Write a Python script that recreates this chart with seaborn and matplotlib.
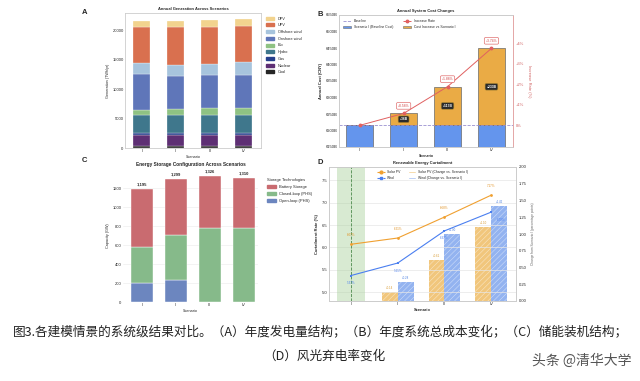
import numpy as np
import pandas as pd
import seaborn as sns
import matplotlib.pyplot as plt
from matplotlib.lines import Line2D
from matplotlib.patches import Patch

scenarios = ["I", "II", "III", "IV"]

# A: annual generation (TWh/yr), stacked bottom -> top
gen_techs = ["Coal", "Nuclear", "Gas", "Hydro", "Bio", "Onshore wind", "Offshore wind", "UPV", "DPV"]
coal = [400, 400, 400, 400]
nuclear = [1870, 1870, 1870, 1870]
gas = [280, 280, 280, 280]
hydro = [3100, 3100, 3100, 3050]
bio = [850, 900, 1070, 1190]
onshore = [6120, 5725, 5660, 5660]
offshore = [1815, 1755, 1820, 2160]
upv = [6060, 6460, 6350, 6120]
dpv = [1130, 1130, 1240, 1190]
gen_vals = [coal, nuclear, gas, hydro, bio, onshore, offshore, upv, dpv]
gen_colors = ["#262626", "#5e2f74", "#263f8c", "#3f778c", "#8fc283",
              "#5f76b9", "#a7c4dd", "#d9704f", "#f2d38e"]

# B: annual system cost (B CNY)
base_cost = [6216, 6216, 6216, 6216]
cost_increase = [0, 36, 117, 233]
increase_rate = [0.0, 0.58, 1.88, 3.74]

# C: storage capacity (GW)
open_phs = [205, 229, 0, 0]
closed_phs = [369, 475, 778, 780]
battery = [621, 595, 548, 530]
storage_total = [1195, 1299, 1326, 1310]

# D: curtailment rate (%) and change vs scenario I (pp)
solar_curt = [6.07, 6.21, 6.68, 7.17]
wind_curt = [5.37, 5.65, 6.37, 6.79]
solar_change = [0, 0.14, 0.61, 1.10]
wind_change = [0, 0.28, 1.00, 1.42]

sns.set_theme(style="whitegrid")
plt.rcParams['font.family'] = ['Liberation Sans', 'DejaVu Sans']
plt.rcParams['font.size'] = 3
plt.rcParams['hatch.linewidth'] = 0.4

fig = plt.figure(figsize=(6.4, 3.81), dpi=100)
W, H = 640, 381
TICK = 3.0
LAB = 2.7
TITLE = 2.9


def box(l, t, r, b):
    return [l / W, 1 - b / H, (r - l) / W, (b - t) / H]


def style_ax(ax, spine_col="#cccccc"):
    ax.tick_params(labelsize=TICK, pad=1, length=0)
    for s in ax.spines.values():
        s.set_color(spine_col)
        s.set_linewidth(0.6)


# ---------- A ----------
axA = fig.add_axes(box(125, 13, 261, 148))
bottom = np.zeros(4)
handles = []
for name, vals, col in zip(gen_techs, gen_vals, gen_colors):
    sns.barplot(x=scenarios, y=vals, bottom=bottom, color=col, width=0.5,
                saturation=1, edgecolor="white", linewidth=0.2, ax=axA)
    bottom += np.array(vals)
    handles.append(Patch(color=col, label=name))
axA.set_ylim(0, 22950)
axA.set_xlim(-0.49, 3.5)
axA.grid(False)
style_ax(axA)
axA.set_title("Annual Generation Across Scenarios", fontsize=TITLE, fontweight="bold", pad=2)
axA.set_ylabel("Generation (TWh/yr)", fontsize=LAB, labelpad=2)
axA.set_xlabel("Scenario", fontsize=LAB, labelpad=1.5)
axA.legend(handles=handles[::-1], loc="upper left", bbox_to_anchor=(1.01, 1.0),
           frameon=False, fontsize=2.8, handlelength=2.2, handleheight=0.8, labelspacing=0.7)

# ---------- B ----------
axB = fig.add_axes(box(339, 15, 513, 147))
sns.barplot(x=scenarios, y=base_cost, color="#6495ed", width=0.6, saturation=1,
            edgecolor="#6a6a6a", linewidth=0.5, ax=axB)
sns.barplot(x=scenarios, y=cost_increase, bottom=base_cost, color="#eaab45", width=0.6,
            saturation=1, edgecolor="#6a6a6a", linewidth=0.5, ax=axB)
axB.axhline(base_cost[0], ls="--", color="#9a90d0", lw=0.6)
axB.set_ylim(6150, 6550)
axB.set_xlim(-0.47, 3.49)
axB.set_yticks(np.arange(6150, 6551, 50))
axB.yaxis.set_major_formatter(lambda v, p: f"{v:.0f}B")
axB.grid(False)
style_ax(axB)
axB.set_title("Annual System Cost Changes", fontsize=TITLE, fontweight="bold", pad=2)
axB.set_ylabel("Annual Cost (CNY)", fontsize=2.9, fontweight="bold", labelpad=2)
axB.set_xlabel("Scenario", fontsize=2.5, fontweight="bold", labelpad=1.5)
for i, (b, inc) in enumerate(zip(base_cost, cost_increase)):
    if inc > 0:
        axB.text(i, b + inc / 2, f"+{inc}B", ha="center", va="center", color="white",
                 fontsize=2.4, fontweight="bold",
                 bbox=dict(boxstyle="round,pad=0.4", fc="#2b2b2b", ec="#b08a30", lw=0.4))

axB2 = axB.twinx()
axB2.plot(range(4), increase_rate, color="#e06060", marker="o", ms=1.8, lw=0.7)
axB2.set_ylim(-1.05, 5.36)
axB2.set_yticks([0, 1, 2, 3, 4])
axB2.set_yticklabels(["0%", "+1%", "+2%", "+3%", "+4%"])
axB2.grid(False)
style_ax(axB2)
axB2.spines["right"].set_color("#e8a0a0")
axB2.tick_params(axis="y", colors="#d06060", pad=2)
axB2.set_ylabel("Increase Rate (%)", fontsize=2.9, color="#d06060", rotation=270, labelpad=5)
for i, r in enumerate(increase_rate):
    if r > 0:
        axB2.annotate(f"+{r:.2f}%", (i, r), xytext=(0, 4), textcoords="offset points",
                      ha="center", va="bottom", fontsize=2.4, color="#d04040",
                      bbox=dict(boxstyle="round,pad=0.4", fc="white", ec="#e07070", lw=0.5))
hB = [Line2D([], [], ls="--", color="#9a90d0", lw=0.6, label="Baseline"),
      Patch(fc="#6495ed", ec="#6a6a6a", lw=0.4, label="Scenario I (Baseline Cost)"),
      Line2D([], [], ls="--", color="#e06060", marker="o", ms=1.8, lw=0.7, label="Increase Rate"),
      Patch(fc="#eaab45", ec="#6a6a6a", lw=0.4, label="Cost Increase vs Scenario I")]
axB2.legend(handles=hB, ncol=2, loc="upper left", frameon=False, fontsize=2.4,
            handlelength=2.4, columnspacing=3, labelspacing=0.7, borderaxespad=0.8)

# ---------- C ----------
axC = fig.add_axes(box(123, 170, 258, 302))
lower = np.zeros(4)
c_handles = []
for name, vals, col in [("Open-loop (PHS)", open_phs, "#6c86bf"),
                        ("Closed-loop (PHS)", closed_phs, "#86ba8a"),
                        ("Battery Storage", battery, "#c96b70")]:
    sns.barplot(x=scenarios, y=vals, bottom=lower, color=col, width=0.65, saturation=1,
                edgecolor="white", linewidth=0.3, ax=axC)
    lower += np.array(vals)
    c_handles.append(Patch(color=col, label=name))
for i, t in enumerate(storage_total):
    axC.text(i, t + 25, f"{t:,}", ha="center", va="bottom", fontsize=3, fontweight="bold")
axC.set_ylim(0, 1390)
axC.set_xlim(-0.55, 3.42)
axC.set_yticks(np.arange(0, 1201, 200))
style_ax(axC)
for s in axC.spines.values():
    s.set_visible(False)
axC.grid(axis="y", color="#eeeeee", lw=0.5)
axC.grid(axis="x", visible=False)
axC.set_title("Energy Storage Configuration Across Scenarios", fontsize=3.4, fontweight="bold", pad=3)
axC.set_ylabel("Capacity (GW)", fontsize=LAB, labelpad=2)
axC.set_xlabel("Scenario", fontsize=LAB, labelpad=1.5)
axC.legend(handles=c_handles[::-1], title="Storage Technologies", title_fontsize=2.9,
           loc="upper left", bbox_to_anchor=(1.04, 0.97), frameon=False, fontsize=2.9,
           handlelength=2.2, labelspacing=0.8, alignment="left")

# ---------- D ----------
axD = fig.add_axes(box(329, 167, 516, 301))
axD2 = axD.twinx()
df = pd.DataFrame({
    "Scenario": scenarios * 2,
    "Change": solar_change + wind_change,
    "Series": ["Solar PV (Change vs. Scenario I)"] * 4 + ["Wind (Change vs. Scenario I)"] * 4,
})
sns.barplot(data=df, x="Scenario", y="Change", hue="Series", palette=["#f1c67c", "#93b3f0"],
            width=0.68, saturation=1, legend=False, ax=axD2)
for p in axD2.patches:
    p.set_hatch("//////")
    p.set_edgecolor((1, 1, 1, 0.55))
    p.set_linewidth(0)
bar_cols = ["#d89a30", "#4a7fe0"]
for k, vals in enumerate([solar_change, wind_change]):
    for i, v in enumerate(vals):
        if v > 0:
            axD2.text(i + (k - 0.5) * 0.34, v + 0.03, f"+{v:.2f}", ha="center", va="bottom",
                      fontsize=2.1, color=bar_cols[k],
                      bbox=dict(boxstyle="square,pad=0.2", fc="white", ec="none", alpha=0.8))
axD2.set_ylim(0, 2.0)
axD2.set_yticks(np.arange(0, 2.01, 0.25))
axD2.yaxis.set_major_formatter(lambda v, p: f"{v:.2f}")
axD2.grid(False)
style_ax(axD2)
axD2.tick_params(axis="y", pad=2)
axD2.set_ylabel("Change from Scenario I (percentage points)", fontsize=2.3, color="#666666",
                rotation=90, labelpad=3)

axD.set_zorder(axD2.get_zorder() + 1)
axD.patch.set_visible(False)
axD.axvspan(-0.3, 0.3, color="#a9d19c", alpha=0.45, lw=0)
axD.axvline(0, ls="--", color="#4d8a4d", lw=0.6)
sns.lineplot(x=range(4), y=solar_curt, color="#f0a030", marker="o", ms=2, lw=0.8,
             markeredgewidth=0, ax=axD)
sns.lineplot(x=range(4), y=wind_curt, color="#4a7ff0", marker="s", ms=2, lw=0.8,
             markeredgewidth=0, ax=axD)
for i, v in enumerate(solar_curt):
    axD.annotate(f"{v:.2f}%", (i, v), xytext=(0, 5), textcoords="offset points",
                 ha="center", va="bottom", fontsize=2.2, color="#e09020")
wind_dx = [0, 0, 0, 7]
for i, v in enumerate(wind_curt):
    axD.annotate(f"{v:.2f}%", (i, v), xytext=(wind_dx[i], -4), textcoords="offset points",
                 ha="center", va="top", fontsize=2.2, color="#4a7ff0")
axD.set_ylim(4.8, 7.8)
axD.set_xlim(-0.47, 3.53)
axD.set_xticks(range(4))
axD.set_xticklabels(scenarios)
axD.set_yticks(np.arange(5.0, 7.51, 0.5))
style_ax(axD)
axD.grid(axis="y", color="#e6e6e6", lw=0.5)
axD.grid(axis="x", visible=False)
axD.set_title("Renewable Energy Curtailment", fontsize=TITLE, fontweight="bold", pad=2)
axD.set_ylabel("Curtailment Rate (%)", fontsize=2.9, fontweight="bold", labelpad=2)
axD.set_xlabel("Scenario", fontsize=2.9, fontweight="bold", labelpad=1.5)
hD = [Line2D([], [], color="#f0a030", marker="o", ms=2, lw=0.8, ls="--", label="Solar PV"),
      Line2D([], [], color="#4a7ff0", marker="s", ms=2, lw=0.8, ls="--", label="Wind"),
      Patch(fc="#f1c67c", label="Solar PV (Change vs. Scenario I)"),
      Patch(fc="#93b3f0", label="Wind (Change vs. Scenario I)")]
axD.legend(handles=hD, ncol=2, loc="upper center", frameon=False, fontsize=2.4,
           handlelength=2.4, columnspacing=2, labelspacing=0.6)

# panel letters
for letter, x, y in [("A", 82, 12), ("B", 317, 14), ("C", 82, 160), ("D", 318, 162)]:
    fig.text(x / W, 1 - y / H, letter, fontsize=5.5, fontweight="bold", va="center")

# caption
cap_font = ["Noto Sans CJK SC", "DejaVu Sans"]
fig.text(0.5, 1 - 333 / H,
         "图3.各建模情景的系统级结果对比。（A）年度发电量结构；（B）年度系统总成本变化；（C）储能装机结构；",
         ha="center", va="center", fontsize=9.1, family=cap_font, color="#222222")
fig.text(324 / W, 1 - 356 / H, "（D）风光弃电率变化", ha="center", va="center",
         fontsize=9.1, family=cap_font, color="#222222")
fig.text(632 / W, 1 - 361 / H, "头条 @清华大学", ha="right", va="center",
         fontsize=10, family=cap_font, color="#555555")

fig.savefig("out.png", dpi=100)
